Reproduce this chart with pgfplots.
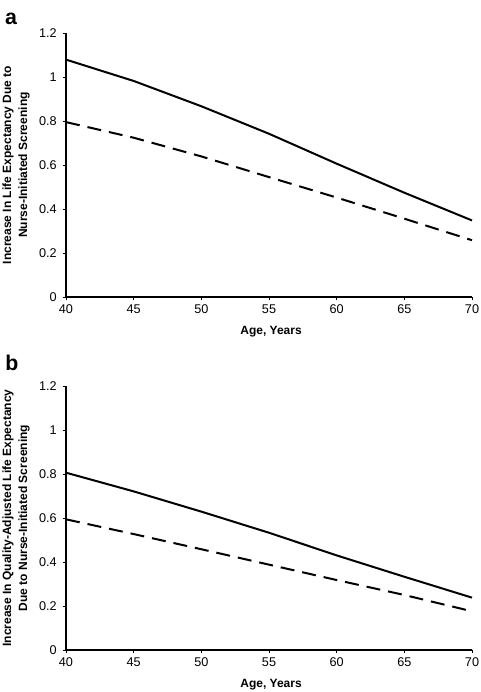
\documentclass[border=0pt]{standalone}
\usepackage{pgfplots}
\pgfplotsset{compat=1.18}
\usepackage{fontspec}
\setmainfont{Liberation Sans}
\setsansfont{Liberation Sans}

\pgfplotstableread{
age  solid  dashed
40   1.079  0.795
45   0.982  0.724
50   0.867  0.639
55   0.742  0.545
60   0.606  0.452
65   0.474  0.356
70   0.348  0.258
}\dataA

\pgfplotstableread{
age  solid  dashed
40   0.806  0.594
45   0.721  0.527
50   0.629  0.458
55   0.533  0.388
60   0.430  0.318
65   0.333  0.250
70   0.238  0.176
}\dataB

\pgfplotsset{
  panel/.style={
    scale only axis,
    width=304.5pt, height=198pt,
    xmin=40, xmax=70, ymin=0, ymax=1.2,
    xtick={40,45,...,70},
    ytick={0,0.2,...,1.2},
    yticklabels={0,0.2,0.4,0.6,0.8,1,1.2},
    axis lines=left,
    axis line style={-, line width=0.8pt},
    tick align=outside,
    tick style={line width=0.6pt, black},
    major tick length=2.5pt,
    tick label style={font=\fontsize{9.5}{11}\selectfont},
    /pgf/number format/assume math mode=true,
    yticklabel style={xshift=-1pt},
    label style={font=\bfseries\fontsize{9}{12}\selectfont},
    xlabel={Age, Years},
    xlabel style={at={(axis description cs:0.505,-0.133)}, anchor=center},
    ylabel style={at={(axis description cs:-0.123,0.5)}, anchor=center, align=center},
    clip=false,
  },
  solidline/.style={black, line width=1.5pt, line join=round},
  dashline/.style={black, line width=1.5pt, dash pattern=on 10.5pt off 6pt},
}

\begin{document}
\begin{tikzpicture}
\useasboundingbox (-49.5pt,-296.25pt) rectangle (310.5pt,222.75pt);
\begin{axis}[panel,
  ylabel={Increase In Life Expectancy Due to\\Nurse-Initiated Screening}]
  \addplot[solidline] table[x=age,y=solid] {\dataA};
  \addplot[dashline] table[x=age,y=dashed] {\dataA};
\end{axis}
\begin{axis}[panel, yshift=-264.75pt,
  ylabel={Increase In Quality-Adjusted Life Expectancy\\Due to Nurse-Initiated Screening}]
  \addplot[solidline] table[x=age,y=solid] {\dataB};
  \addplot[dashline] table[x=age,y=dashed] {\dataB};
\end{axis}
\node[font=\bfseries\fontsize{16}{18}\selectfont, inner sep=0pt] at (-41.25pt,208.9pt) {a};
\node[font=\bfseries\fontsize{16}{18}\selectfont, inner sep=0pt] at (-40.5pt,-49.1pt) {b};
\end{tikzpicture}
\end{document}
